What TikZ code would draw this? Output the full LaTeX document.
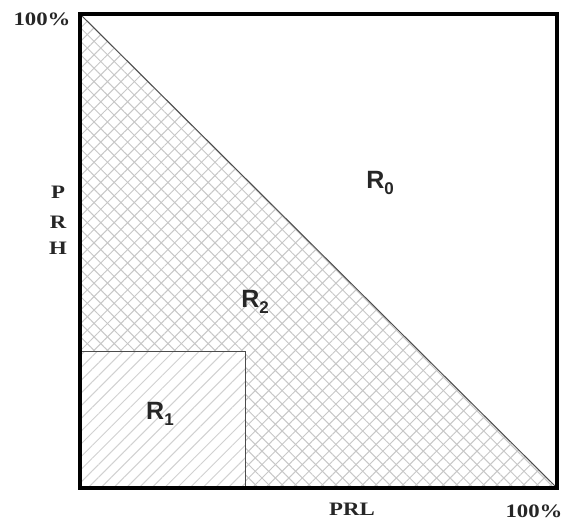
\documentclass[tikz,border=0pt]{standalone}
\usepackage{fontspec}
\setmainfont{Liberation Serif}
\newfontfamily\axfont[FakeStretch=1.2]{Liberation Serif}
\newfontfamily\rfont{Liberation Sans}
\usetikzlibrary{patterns.meta}
\tikzset{
  axlabel/.style={inner sep=0pt, text=black!85, font=\axfont\bfseries\fontsize{19}{20}\selectfont},
  rlabel/.style={inner sep=0pt, text=black!85, font=\rfont\bfseries\fontsize{25}{26}\selectfont},
  hatchA/.style={pattern={Lines[angle=45,distance=9.5pt,line width=1pt]}, pattern color=black!22},
  hatchB/.style={pattern={Lines[angle=-45,distance=9.5pt,line width=1pt]}, pattern color=black!22},
  hatchC/.style={pattern={Lines[angle=45,distance=9pt,line width=1pt]}, pattern color=black!18},
  thinline/.style={line width=1pt, draw=black!70},
  frame/.style={line width=3.5pt, draw=black}
}
\newcommand{\rsub}[1]{\raisebox{-0.45ex}{\fontsize{17}{17}\selectfont #1}}
\begin{document}
\begin{tikzpicture}[x=1pt,y=-1pt]
\useasboundingbox (0,0) rectangle (569,525);
\coordinate (TL) at (80,14);
\coordinate (BL) at (80,488);
\coordinate (BR) at (557,488);
\coordinate (R1top) at (80,351);
\coordinate (R1br) at (245,488);
% crosshatched triangle
\fill[hatchA] (TL) -- (BL) -- (BR) -- cycle;
\fill[hatchB] (TL) -- (BL) -- (BR) -- cycle;
% R1 region with single hatching
\fill[white] (R1top) rectangle (R1br);
\fill[hatchC] (R1top) rectangle (R1br);
\draw[thinline] (R1top) rectangle (R1br);
% hypotenuse
\draw[thinline] (TL) -- (BR);
% frame
\draw[frame] (TL) rectangle (BR);
% labels
\node[axlabel] (ytop) at (42,19) {100\%};
\node[axlabel] (p) at (58,192) {P};
\node[axlabel] (r) at (58,222) {R};
\node[axlabel] (h) at (58,248) {H};
\node[axlabel] (prl) at (352,509) {PRL};
\node[axlabel] (xend) at (534,511) {100\%};
\node[rlabel] (r0) at (380,183) {R\rsub{0}};
\node[rlabel] (r2) at (255,302) {R\rsub{2}};
\node[rlabel] (r1) at (160,414) {R\rsub{1}};
\end{tikzpicture}
\end{document}
